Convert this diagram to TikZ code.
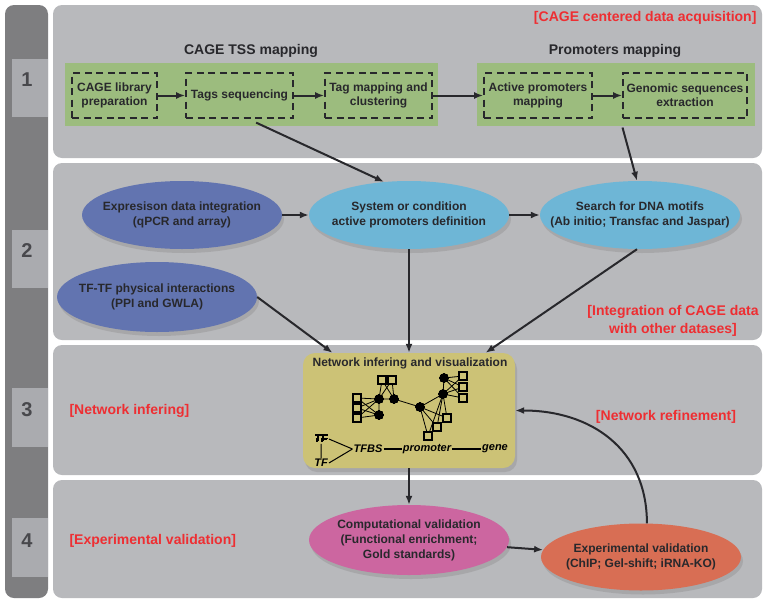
\documentclass[tikz,border=0pt]{standalone}
\usepackage{fontspec}
\setmainfont{Liberation Sans}
\usepackage{tikz}
\usetikzlibrary{positioning,shapes.geometric,shadows,arrows.meta}
\definecolor{barColor}{RGB}{126,126,128}
\definecolor{panelColor}{RGB}{184,185,188}
\definecolor{numberColor}{RGB}{170,171,175}
\definecolor{stepGreen}{RGB}{156,188,126}
\definecolor{labelRed}{RGB}{238,46,50}
\definecolor{textDark}{RGB}{40,40,44}
\definecolor{dataBlue}{RGB}{98,116,176}
\definecolor{cageBlue}{RGB}{110,182,214}
\definecolor{netYellow}{RGB}{204,194,118}
\definecolor{compPink}{RGB}{204,102,160}
\definecolor{expOrange}{RGB}{216,110,84}
\tikzstyle{canvas} = [x = 1pt, y = -1pt]
\tikzstyle{panelStyle} = [fill=panelColor, rounded corners = 9pt]
\tikzstyle{numberText} = [font=\fontsize{20}{22}\selectfont\bfseries, color=textDark!85]
\tikzstyle{titleText} = [font=\fontsize{14}{16}\selectfont\bfseries, color=textDark]
\tikzstyle{redText} = [font=\fontsize{14}{18}\selectfont\bfseries, color=labelRed, align=center]
\tikzstyle{stepBox} = [draw=textDark, line width=1.7pt, dash pattern=on 7pt off 4.5pt, minimum height=45, align=center, inner sep=1pt, font=\fontsize{12}{14}\selectfont\bfseries, text=textDark]
\tikzstyle{bubble} = [ellipse, minimum width=200, minimum height=68, align=center, inner xsep=-22pt, inner ysep=2pt, font=\fontsize{12}{15}\selectfont\bfseries, text=textDark, drop shadow={opacity=.3, shadow xshift=2pt, shadow yshift=-4pt}]
\tikzstyle{netBox} = [fill=netYellow, rounded corners=12pt, minimum width=212, minimum height=115, drop shadow={opacity=.3, shadow xshift=2pt, shadow yshift=-4pt}]
\tikzstyle{flowArrow} = [color=textDark, line width=2pt, ->, >={Latex[length=9pt, width=7pt]}]
\tikzstyle{netEdge} = [color=black, line width=.8pt]
\tikzstyle{netText} = [font=\fontsize{11}{12}\selectfont\bfseries\itshape, inner sep=1pt]
\newcommand{\stageNumber}[4]{\fill [numberColor] (12, #1) rectangle (48, #2); \node [numberText] (stage#4) at (27, #3) {#4};}
\newcommand{\netSquare}[2]{\filldraw [netEdge, line width=1.1pt, fill=netYellow] (#1 - 4, #2 - 4) rectangle + (8, 8);}
\newcommand{\netDot}[1]{\fill (#1) circle (4.5);}

\begin{document}
\begin{tikzpicture}[canvas]
      \useasboundingbox (0, 0) rectangle (763, 600);
      \fill [white] (0, 0) rectangle (763, 600);
      \fill [barColor, rounded corners = 9pt] (5, 5) rectangle (48, 598);
      \fill [panelStyle] (53, 5) rectangle (762, 158);
      \fill [panelStyle] (53, 163) rectangle (762, 340);
      \fill [panelStyle] (53, 345) rectangle (762, 475);
      \fill [panelStyle] (53, 480) rectangle (762, 598);
      \stageNumber{59}{117}{80}{1}
      \stageNumber{230}{288}{251}{2}
      \stageNumber{388}{447}{410}{3}
      \stageNumber{518}{577}{541}{4}

      \fill [stepGreen] (65, 63) rectangle (438, 126);
      \fill [stepGreen] (477, 63) rectangle (755, 126);
      \node [titleText] (tssTitle) at (251, 51) {CAGE TSS mapping};
      \node [titleText] (promTitle) at (615, 51) {Promoters mapping};
      \node [redText, anchor=east] (acqLabel) at (760, 18) {[CAGE centered data acquisition]};
      \node [stepBox, minimum width=85] (prep) at (114.5, 95.5) {CAGE library\\preparation};
      \node [stepBox, minimum width=107] (seq) at (239.5, 95.5) {Tags sequencing};
      \node [stepBox, minimum width=107] (clus) at (378.5, 95.5) {Tag mapping and\\clustering};
      \node [stepBox, minimum width=108] (act) at (538, 95.5) {Active promoters\\mapping};
      \node [stepBox, minimum width=124] (gen) at (685, 95.5) {Genomic sequences\\extraction};
      \draw [flowArrow] (prep) -- (seq);
      \draw [flowArrow] (seq) -- (clus);
      \draw [flowArrow] (clus) -- (act);
      \draw [flowArrow] (act) -- (gen);

      \node [bubble, fill=dataBlue] (expr) at (182, 215) {Expresison data integration\\(qPCR and array)};
      \node [bubble, fill=cageBlue] (sys) at (409, 215) {System or condition\\active promoters definition};
      \node [bubble, fill=cageBlue] (motif) at (640, 215) {Search for DNA motifs\\(Ab initio; Transfac and Jaspar)};
      \node [bubble, fill=dataBlue, minimum height=70] (ppi) at (157, 297) {TF-TF physical interactions\\(PPI and GWLA)};
      \node [redText] (integLabel) at (673, 321) {[Integration of CAGE data\\with other datases]};
      \draw [flowArrow, shorten <=9pt] (seq.290) -- (sys.127);
      \draw [flowArrow, shorten <=9pt] ([xshift=-2pt]gen.south west) -- (motif.95);
      \draw [flowArrow] (expr) -- (sys);
      \draw [flowArrow] (sys) -- (motif);

      \node [netBox] (net) at (409, 410.5) {};
      \node [font=\fontsize{12}{14}\selectfont\bfseries, text=textDark] (netTitle) at (410, 363) {Network infering and visualization};
      \node [redText, anchor=west] (inferLabel) at (66, 411) {[Network infering]};
      \node [redText] (refineLabel) at (666, 417) {[Network refinement]};
      \foreach \name/\px/\py in {netA/379/399, netB/394/399, netC/379/415, netD/420/407, netE/444/378, netF/443/394}
        \coordinate (\name) at (\px, \py);
      \draw [netEdge] (netA) -- (netB) -- (netD) -- (netF) -- (netE) (netA) -- (netC);
      \foreach \sx/\sy in {357/398, 357/408, 357/418}
        \draw [netEdge] (\sx, \sy) -- (netA) (\sx, \sy) -- (netC);
      \foreach \sx/\sy in {382/380, 392/380}
        \draw [netEdge] (\sx, \sy) -- (netA) (\sx, \sy) -- (netB);
      \foreach \sx/\sy in {463/376, 463/387, 463/398}
        \draw [netEdge] (\sx, \sy) -- (netE) (\sx, \sy) -- (netF);
      \foreach \sx/\sy in {447/418, 437/427, 428/436}
        \draw [netEdge] (\sx, \sy) -- (netD) (\sx, \sy) -- (netF);
      \foreach \sx/\sy in {357/398, 357/408, 357/418, 382/380, 392/380, 463/376, 463/387, 463/398, 447/418, 437/427, 428/436}
        \netSquare{\sx}{\sy}
      \foreach \name in {netA, netB, netC, netD, netE, netF}
        \netDot{\name}
      \node [netText] (tfTop) at (321, 439) {TF};
      \node [netText] (tfBot) at (321, 463) {TF};
      \node [netText] (tfbs) at (368, 449) {TFBS};
      \node [netText] (prom) at (427, 449) {promoter};
      \node [netText] (gene) at (495, 449) {gene};
      \draw [netEdge, line width=1pt] (tfTop.south) -- (tfBot.north) (tfTop.east) -- (tfbs.west) (tfBot.east) -- (tfbs.west);
      \draw [netEdge, line width=1.3pt] (tfbs) -- (prom) (prom) -- (gene);
      \draw [flowArrow] (sys) -- (net);
      \draw [flowArrow] (motif.265) -- (net.37);
      \draw [flowArrow] (ppi.east) -- (net.143);

      \node [bubble, fill=compPink, minimum height=70] (comp) at (409, 540) {Computational validation\\(Functional enrichment;\\Gold standards)};
      \node [bubble, fill=expOrange, minimum height=67] (expt) at (641, 557) {Experimental validation\\(ChIP; Gel-shift; iRNA-KO)};
      \node [redText, anchor=west] (valLabel) at (66, 541) {[Experimental validation]};
      \draw [flowArrow] (net) -- (comp);
      \draw [flowArrow] (comp) -- (expt);
      \draw [flowArrow] (expt.80) .. controls +(0, -75) and +(75, 0) .. (net.east);
    \end{tikzpicture}
\end{document}
